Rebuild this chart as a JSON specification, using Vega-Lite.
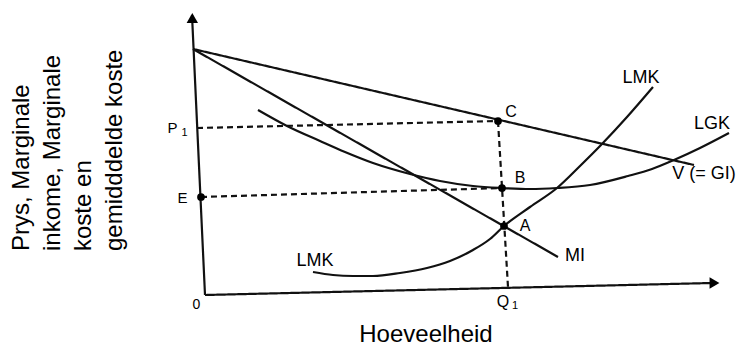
{
  "$schema": "https://vega.github.io/schema/vega-lite/v6.json",
  "width": 741,
  "height": 347,
  "padding": 0,
  "autosize": {"type": "none"},
  "background": "white",
  "config": {"view": {"stroke": null}},
  "datasets": {
    "segs": [
      {"id": "yaxis", "x": -8, "y": 280, "x2": 5, "y2": 0, "kind": "solid"},
      {"id": "xaxis", "x": 5, "y": 0, "x2": 512, "y2": 12, "kind": "solid"},
      {"id": "V", "x": -7, "y": 246, "x2": 494, "y2": 130, "kind": "solid"},
      {"id": "MI", "x": -7, "y": 246, "x2": 358, "y2": 38, "kind": "solid"},
      {"id": "P1", "x": -3, "y": 167, "x2": 298, "y2": 174, "kind": "dashed"},
      {"id": "E", "x": 1, "y": 98, "x2": 302, "y2": 107, "kind": "dashed"},
      {"id": "Q1", "x": 298, "y": 174, "x2": 308, "y2": 8, "kind": "dashed"}
    ],
    "curves": [
      {"curve": "LGK", "i": 1, "x": 58, "y": 185},
      {"curve": "LGK", "i": 2, "x": 87, "y": 169},
      {"curve": "LGK", "i": 3, "x": 120, "y": 154},
      {"curve": "LGK", "i": 4, "x": 145, "y": 143},
      {"curve": "LGK", "i": 5, "x": 173, "y": 132},
      {"curve": "LGK", "i": 6, "x": 210, "y": 121},
      {"curve": "LGK", "i": 7, "x": 240, "y": 114},
      {"curve": "LGK", "i": 8, "x": 273, "y": 109},
      {"curve": "LGK", "i": 9, "x": 302, "y": 107},
      {"curve": "LGK", "i": 10, "x": 330, "y": 106},
      {"curve": "LGK", "i": 11, "x": 357, "y": 107},
      {"curve": "LGK", "i": 12, "x": 390, "y": 110},
      {"curve": "LGK", "i": 13, "x": 428, "y": 119},
      {"curve": "LGK", "i": 14, "x": 452, "y": 126},
      {"curve": "LGK", "i": 15, "x": 474, "y": 135},
      {"curve": "LGK", "i": 16, "x": 500, "y": 147},
      {"curve": "LGK", "i": 17, "x": 529, "y": 162},
      {"curve": "LMK", "i": 1, "x": 113, "y": 23},
      {"curve": "LMK", "i": 2, "x": 133, "y": 20},
      {"curve": "LMK", "i": 3, "x": 153, "y": 19},
      {"curve": "LMK", "i": 4, "x": 173, "y": 19},
      {"curve": "LMK", "i": 5, "x": 200, "y": 22},
      {"curve": "LMK", "i": 6, "x": 227, "y": 27},
      {"curve": "LMK", "i": 7, "x": 250, "y": 34},
      {"curve": "LMK", "i": 8, "x": 273, "y": 45},
      {"curve": "LMK", "i": 9, "x": 290, "y": 56},
      {"curve": "LMK", "i": 10, "x": 304, "y": 69},
      {"curve": "LMK", "i": 11, "x": 330, "y": 88},
      {"curve": "LMK", "i": 12, "x": 357, "y": 107},
      {"curve": "LMK", "i": 13, "x": 380, "y": 129},
      {"curve": "LMK", "i": 14, "x": 401, "y": 150},
      {"curve": "LMK", "i": 15, "x": 427, "y": 178},
      {"curve": "LMK", "i": 16, "x": 453, "y": 208}
    ],
    "dots": [
      {"name": "C", "x": 298, "y": 174},
      {"name": "B", "x": 302, "y": 107},
      {"name": "A", "x": 304, "y": 69},
      {"name": "E", "x": 1, "y": 98}
    ],
    "arrows": [
      {"x": -7.7, "y": 277, "shape": "triangle-up"},
      {"x": 514.5, "y": 12, "shape": "triangle-right"}
    ],
    "labels": [
      {"t": "C", "x": 311, "y": 183, "s": 16},
      {"t": "B", "x": 320, "y": 117, "s": 16},
      {"t": "A", "x": 325, "y": 69, "s": 16},
      {"t": "P", "x": -27.5, "y": 167.5, "s": 15},
      {"t": "1", "x": -15.5, "y": 162.5, "s": 11},
      {"t": "E", "x": -17.5, "y": 97, "s": 15},
      {"t": "0", "x": -3.5, "y": -10, "s": 14},
      {"t": "Q", "x": 303, "y": -7, "s": 16},
      {"t": "1", "x": 315, "y": -11, "s": 11},
      {"t": "LMK", "x": 115, "y": 34, "s": 18},
      {"t": "LMK", "x": 441, "y": 217, "s": 18},
      {"t": "LGK", "x": 512, "y": 171, "s": 18},
      {"t": "V (= GI)", "x": 504, "y": 121, "s": 18},
      {"t": "MI", "x": 375, "y": 39, "s": 18},
      {"t": "Hoeveelheid", "x": 226, "y": -39.5, "s": 24}
    ],
    "ytitle": [
      {"t": "Prys, Marginale\ninkome, Marginale\nkoste en\ngemidddelde koste", "x": -190, "y": 44}
    ]
  },
  "encoding": {
    "x": {"field": "x", "type": "quantitative", "scale": {"domain": [-200, 541], "nice": false, "zero": false}, "axis": null},
    "y": {"field": "y", "type": "quantitative", "scale": {"domain": [-52, 295], "nice": false, "zero": false}, "axis": null}
  },
  "layer": [
    {
      "data": {"name": "segs"},
      "mark": {"type": "rule", "color": "#111", "strokeWidth": 2.2},
      "encoding": {
        "x2": {"field": "x2"},
        "y2": {"field": "y2"},
        "strokeDash": {"field": "kind", "type": "nominal", "scale": {"domain": ["solid", "dashed"], "range": [[1, 0], [6, 4]]}, "legend": null}
      }
    },
    {
      "data": {"name": "curves"},
      "mark": {"type": "line", "color": "#111", "strokeWidth": 2.2, "interpolate": "monotone"},
      "encoding": {
        "detail": {"field": "curve", "type": "nominal"},
        "order": {"field": "i", "type": "quantitative"}
      }
    },
    {
      "data": {"name": "dots"},
      "mark": {"type": "circle", "color": "#000", "opacity": 1, "size": 60},
      "encoding": {}
    },
    {
      "data": {"name": "arrows"},
      "mark": {"type": "point", "filled": true, "color": "#000", "opacity": 1, "size": 130},
      "encoding": {
        "shape": {"field": "shape", "type": "nominal", "scale": null}
      }
    },
    {
      "data": {"name": "labels"},
      "mark": {"type": "text", "font": "Liberation Sans", "color": "#000", "align": "center", "baseline": "middle"},
      "encoding": {
        "text": {"field": "t", "type": "nominal"},
        "size": {"field": "s", "type": "quantitative", "scale": null}
      }
    },
    {
      "data": {"name": "ytitle"},
      "mark": {"type": "text", "font": "Liberation Sans", "fontSize": 24, "color": "#000", "angle": 270, "align": "left", "baseline": "top", "lineBreak": "\n", "lineHeight": 31},
      "encoding": {
        "text": {"field": "t", "type": "nominal"}
      }
    }
  ]
}
